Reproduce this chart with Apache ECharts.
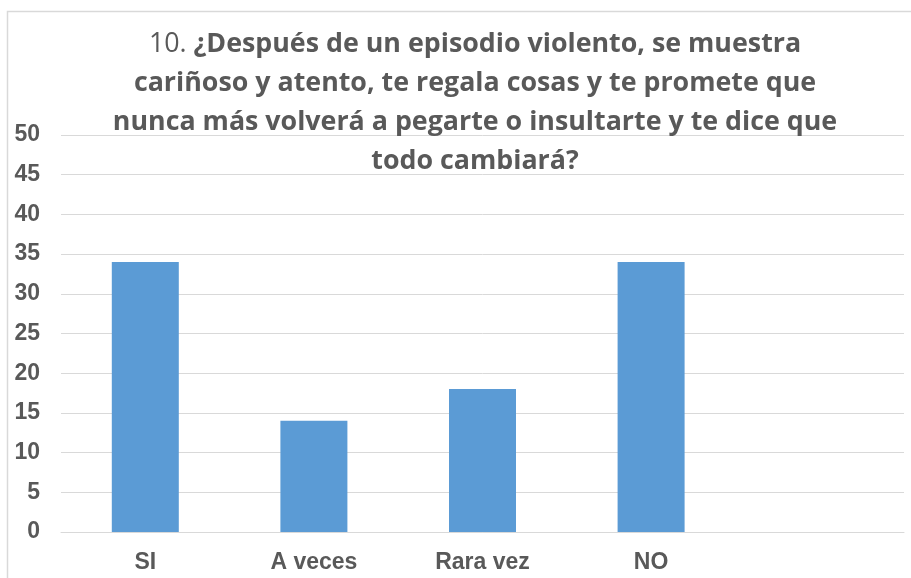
<!DOCTYPE html>
<html>
<head>
<meta charset="utf-8">
<script src="https://cdn.jsdelivr.net/npm/echarts@6/dist/echarts.min.js"></script>
<style>
  html, body { margin: 0; padding: 0; background: #fff; }
  #chart { width: 911px; height: 578px; }
</style>
</head>
<body>
<div id="chart"></div>
<script>
// categorias (la quinta va vacia, como en el original)
var categories = ['SI', 'A veces', 'Rara vez', 'NO', ''];
var values = [34, 14, 18, 34, null];
var yTicks = { min: 0, max: 50, interval: 5 };

var titleLines = [
  '¿Después de un episodio violento, se muestra',
  'cariñoso y atento, te regala cosas y te promete que',
  'nunca más volverá a pegarte o insultarte y te dice que',
  'todo cambiará?'
];

var myChart = echarts.init(document.getElementById('chart'));

var titleText = '{n|10. }{b|' + titleLines[0] + '}\n' +
  titleLines.slice(1).map(function (l) { return '{b|' + l + '}'; }).join('\n');

var option = {
  backgroundColor: '#fff',
  animation: false,
  title: {
    text: titleText,
    left: 470,
    top: 20,
    textAlign: 'center',
    textStyle: {
      rich: {
        n: { fontFamily: 'Open Sans', fontSize: 26.8, fontWeight: 'normal', color: '#595959', lineHeight: 39 },
        b: { fontFamily: 'Open Sans', fontSize: 26.8, fontWeight: 'bold', color: '#595959', lineHeight: 39 }
      }
    }
  },
  graphic: [{
    type: 'rect',
    shape: { x: 7.5, y: 11.5, width: 1000, height: 1000 },
    style: { fill: 'none', stroke: '#d9d9d9', lineWidth: 1.5 },
    silent: true
  }],
  grid: { left: 61, right: 7, top: 135, bottom: 46 },
  xAxis: {
    type: 'category',
    data: categories,
    axisLine: { show: true, lineStyle: { color: '#d9d9d9', width: 1 } },
    axisTick: { show: false },
    axisLabel: {
      margin: 19,
      fontFamily: 'Liberation Sans, Arial',
      fontSize: 23,
      fontWeight: 'bold',
      color: '#595959'
    }
  },
  yAxis: {
    type: 'value',
    min: yTicks.min,
    max: yTicks.max,
    interval: yTicks.interval,
    axisLine: { show: false },
    axisTick: { show: false },
    splitLine: { lineStyle: { color: '#d9d9d9', width: 1 } },
    axisLabel: {
      margin: 21,
      fontFamily: 'Liberation Sans, Arial',
      fontSize: 23,
      fontWeight: 'bold',
      color: '#595959'
    }
  },
  series: [{
    type: 'bar',
    data: values,
    barWidth: 67,
    itemStyle: { color: '#5b9bd5' }
  }]
};

myChart.setOption(option);
</script>
</body>
</html>
